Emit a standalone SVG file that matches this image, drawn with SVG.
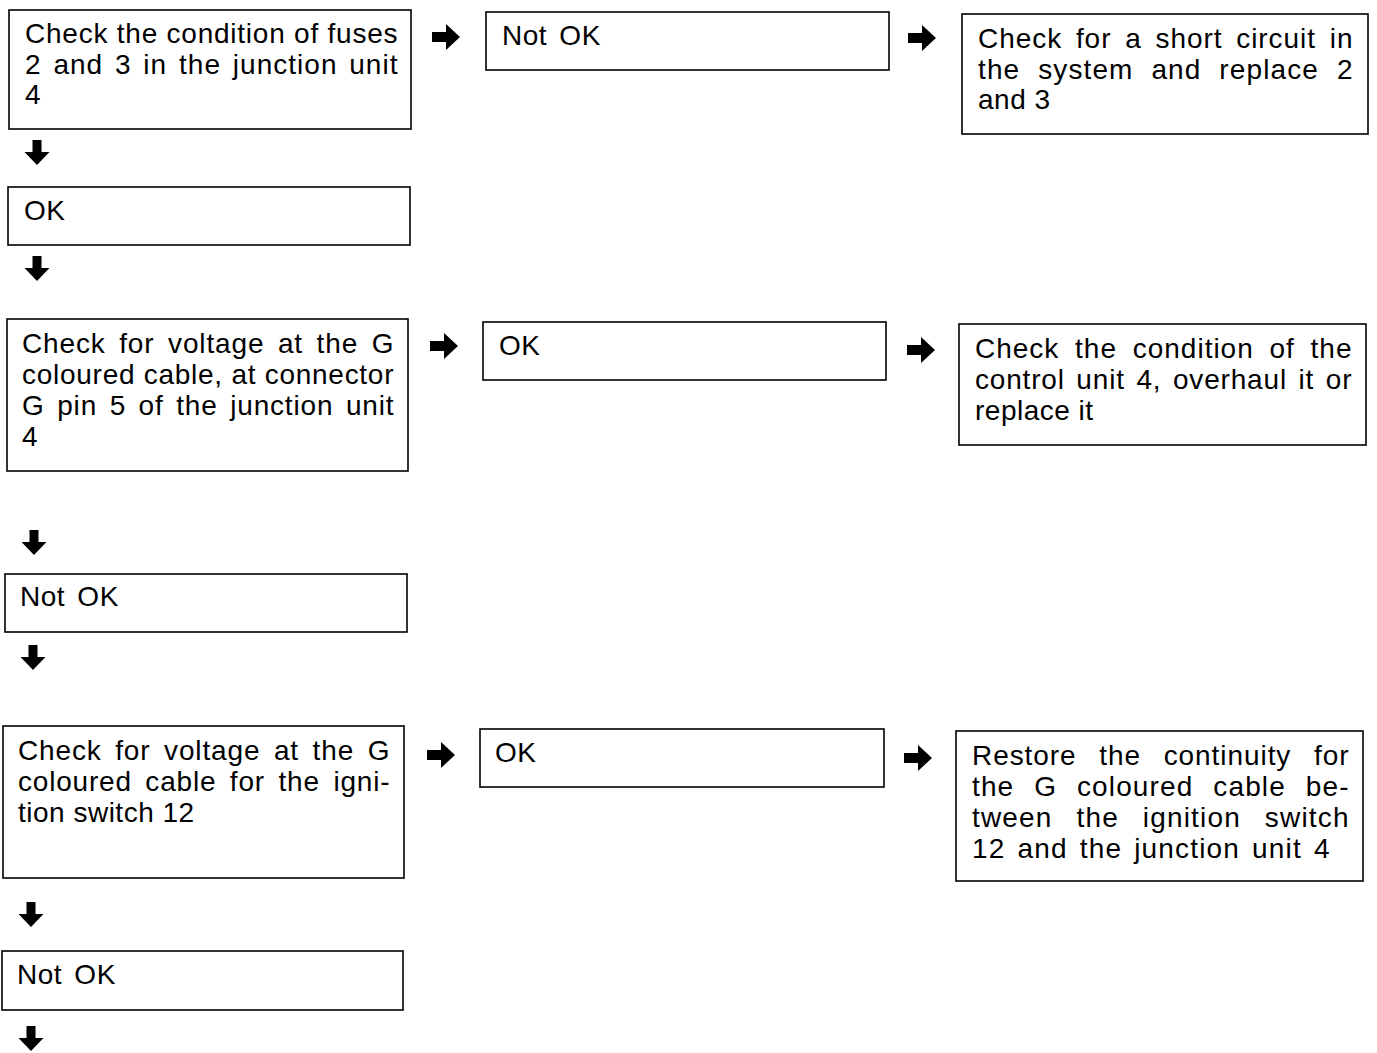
<svg xmlns="http://www.w3.org/2000/svg" width="1377" height="1053" viewBox="0 0 1377 1053">
<style>
.box{fill:#fff;stroke:#000;stroke-width:1.6}
text{font-family:"Liberation Sans",Arial,sans-serif;font-size:28px;fill:#000;letter-spacing:0.5px}
.arr{fill:#000}
</style>
<defs>
<path id="down" d="M-4.5,0 h9 v12 h8 l-12.5,13 l-12.5,-13 h8 z"/>
<path id="right" d="M0,-5 h14 v-8 l14,13 l-14,13 v-8 h-14 z"/>
</defs>
<rect width="1377" height="1053" fill="#fff"/>

<g id="n1">
<rect class="box" x="9" y="10" width="402" height="119"/>
<text x="25" y="43" textLength="373" lengthAdjust="spacing">Check the condition of fuses</text>
<text x="25" y="74" word-spacing="3" textLength="373" lengthAdjust="spacing">2 and 3 in the junction unit</text>
<text x="25" y="104">4</text>
</g>
<g id="n2">
<rect class="box" x="486" y="12" width="403" height="58"/>
<text x="502" y="45" word-spacing="4">Not OK</text>
</g>
<g id="n3">
<rect class="box" x="962" y="14" width="406" height="120"/>
<text x="978" y="48" word-spacing="5" textLength="375" lengthAdjust="spacing">Check for a short circuit in</text>
<text x="978" y="79" word-spacing="9" textLength="375" lengthAdjust="spacing">the system and replace 2</text>
<text x="978" y="109">and 3</text>
</g>
<g id="n4">
<rect class="box" x="8" y="187" width="402" height="58"/>
<text x="24" y="220">OK</text>
</g>
<g id="n5">
<rect class="box" x="7" y="319" width="401" height="152"/>
<text x="22" y="353" word-spacing="5" textLength="372" lengthAdjust="spacing">Check for voltage at the G</text>
<text x="22" y="384" textLength="372" lengthAdjust="spacing">coloured cable, at connector</text>
<text x="22" y="415" word-spacing="4" textLength="372" lengthAdjust="spacing">G pin 5 of the junction unit</text>
<text x="22" y="446">4</text>
</g>
<g id="n6">
<rect class="box" x="483" y="322" width="403" height="58"/>
<text x="499" y="355">OK</text>
</g>
<g id="n7">
<rect class="box" x="959" y="324" width="407" height="121"/>
<text x="975" y="358" word-spacing="7" textLength="377" lengthAdjust="spacing">Check the condition of the</text>
<text x="975" y="389" word-spacing="3" textLength="377" lengthAdjust="spacing">control unit 4, overhaul it or</text>
<text x="975" y="420">replace it</text>
</g>
<g id="n8">
<rect class="box" x="5" y="574" width="402" height="58"/>
<text x="20" y="606" word-spacing="4">Not OK</text>
</g>
<g id="n9">
<rect class="box" x="3" y="726" width="401" height="152"/>
<text x="18" y="760" word-spacing="5" textLength="372" lengthAdjust="spacing">Check for voltage at the G</text>
<text x="18" y="791" word-spacing="5" textLength="372" lengthAdjust="spacing">coloured cable for the igni-</text>
<text x="18" y="822">tion switch 12</text>
</g>
<g id="n10">
<rect class="box" x="480" y="729" width="404" height="58"/>
<text x="495" y="762">OK</text>
</g>
<g id="n11">
<rect class="box" x="956" y="731" width="407" height="150"/>
<text x="972" y="765" word-spacing="14" textLength="377" lengthAdjust="spacing">Restore the continuity for</text>
<text x="972" y="796" word-spacing="11" textLength="377" lengthAdjust="spacing">the G coloured cable be-</text>
<text x="972" y="827" word-spacing="15" textLength="377" lengthAdjust="spacing">tween the ignition switch</text>
<text x="972" y="858" word-spacing="3" textLength="358" lengthAdjust="spacing">12 and the junction unit 4</text>
</g>
<g id="n12">
<rect class="box" x="2" y="951" width="401" height="59"/>
<text x="17" y="984" word-spacing="4">Not OK</text>
</g>

<g id="connectors" class="arr">
<use href="#down" x="37" y="140"/>
<use href="#down" x="37" y="256"/>
<use href="#down" x="34" y="530"/>
<use href="#down" x="33" y="645"/>
<use href="#down" x="31" y="902"/>
<use href="#down" x="31" y="1026"/>
<use href="#right" x="432" y="37"/>
<use href="#right" x="908" y="38"/>
<use href="#right" x="430" y="346"/>
<use href="#right" x="907" y="350"/>
<use href="#right" x="427" y="755"/>
<use href="#right" x="904" y="758"/>
</g>
</svg>
